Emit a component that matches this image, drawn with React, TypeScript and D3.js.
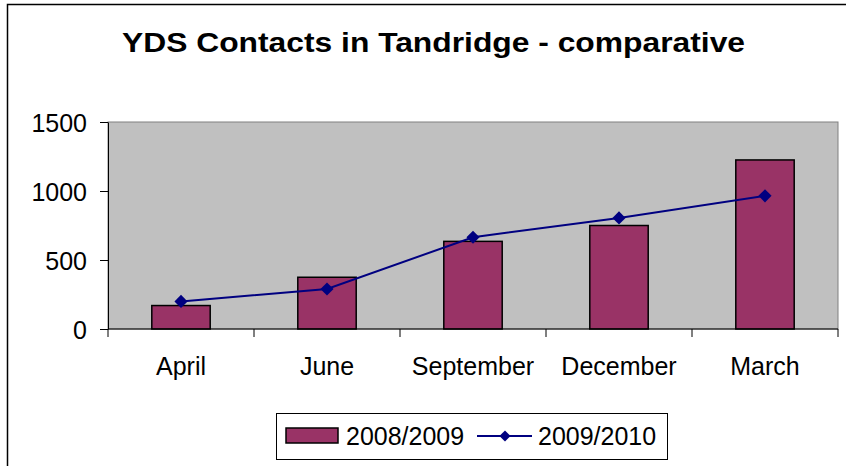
import * as d3 from "d3";
import { useEffect, useRef } from "react";

const MONTHS = ["April", "June", "September", "December", "March"];
const VALUES_0809 = [170, 375, 635, 750, 1225];
const VALUES_0910 = [200, 290, 665, 805, 965];
const Y_TICKS = [0, 500, 1000, 1500];
const SERIES_NAMES = ["2008/2009", "2009/2010"];

const BAR_COLOR = "#993366";
const LINE_COLOR = "#000080";
const FONT = "'Liberation Sans', Arial, sans-serif";
const FONT_SIZE = 25;

const App = () => {
	const svgRef = useRef<SVGSVGElement | null>(null);

	const width = 846;
	const height = 466;
	const plot = { left: 108, right: 838, top: 122, bottom: 329 };

	useEffect(() => {
		const svg = d3.select(svgRef.current);
		svg.selectAll("*").remove();

		// chart frame (only top and left edges are visible in the crop)
		svg.append("rect")
			.attr("x", 0)
			.attr("y", 0)
			.attr("width", width)
			.attr("height", height)
			.attr("fill", "#ffffff");
		svg.append("path")
			.attr("d", `M7.5,${height} V4.5 H${width}`)
			.attr("fill", "none")
			.attr("stroke", "#000")
			.attr("stroke-width", 1.5);

		svg.append("text")
			.attr("x", 433.5)
			.attr("y", 52)
			.attr("text-anchor", "middle")
			.attr("font-family", FONT)
			.attr("font-weight", "bold")
			.attr("font-size", 28)
			.attr("textLength", 623)
			.attr("lengthAdjust", "spacingAndGlyphs")
			.text("YDS Contacts in Tandridge - comparative");

		const x = d3
			.scaleBand<string>()
			.domain(MONTHS)
			.range([plot.left, plot.right])
			.padding(0);
		const y = d3.scaleLinear().domain([0, 1500]).range([plot.bottom, plot.top]);

		// plot area
		svg.append("rect")
			.attr("x", plot.left)
			.attr("y", plot.top)
			.attr("width", plot.right - plot.left)
			.attr("height", plot.bottom - plot.top)
			.attr("fill", "#c0c0c0")
			.attr("stroke", "#808080")
			.attr("stroke-width", 1);

		// bars
		const barW = x.bandwidth() * 0.4;
		svg.append("g")
			.selectAll("rect")
			.data(VALUES_0809)
			.enter()
			.append("rect")
			.attr("x", (_, i) => (x(MONTHS[i]) as number) + (x.bandwidth() - barW) / 2)
			.attr("y", (d) => y(d))
			.attr("width", barW)
			.attr("height", (d) => y(0) - y(d))
			.attr("fill", BAR_COLOR)
			.attr("stroke", "#000")
			.attr("stroke-width", 1.5);

		// y axis
		const yAxis = d3
			.axisLeft(y)
			.tickValues(Y_TICKS)
			.tickFormat(d3.format("d"))
			.tickSize(8)
			.tickSizeOuter(0)
			.tickPadding(13);
		const yg = svg.append("g").attr("transform", `translate(${plot.left},0)`).call(yAxis);
		yg.select(".domain").attr("stroke", "#000");
		yg.selectAll("line").attr("stroke", "#000");
		yg.selectAll("text")
			.attr("font-family", FONT)
			.attr("font-size", FONT_SIZE)
			.attr("fill", "#000")
			.attr("dy", "0.36em");

		// x axis with ticks between categories
		const xg = svg.append("g").attr("transform", `translate(0,${plot.bottom})`);
		xg.append("line")
			.attr("x1", plot.left)
			.attr("x2", plot.right)
			.attr("stroke", "#000");
		const tickXs = MONTHS.map((m) => x(m) as number).concat(plot.right);
		xg.selectAll(".tick")
			.data(tickXs)
			.enter()
			.append("line")
			.attr("x1", (d) => d)
			.attr("x2", (d) => d)
			.attr("y1", 0)
			.attr("y2", 8)
			.attr("stroke", "#000");
		xg.selectAll(".label")
			.data(MONTHS)
			.enter()
			.append("text")
			.attr("x", (d) => (x(d) as number) + x.bandwidth() / 2)
			.attr("y", 46)
			.attr("text-anchor", "middle")
			.attr("font-family", FONT)
			.attr("font-size", FONT_SIZE)
			.text((d) => d);

		// line series
		const line = d3
			.line<number>()
			.x((_, i) => (x(MONTHS[i]) as number) + x.bandwidth() / 2)
			.y((d) => y(d));
		svg.append("path")
			.datum(VALUES_0910)
			.attr("d", line)
			.attr("fill", "none")
			.attr("stroke", LINE_COLOR)
			.attr("stroke-width", 2);
		const diamond = d3.symbol().type(d3.symbolDiamond2).size(110);
		svg.append("g")
			.selectAll("path")
			.data(VALUES_0910)
			.enter()
			.append("path")
			.attr("d", diamond)
			.attr(
				"transform",
				(d, i) =>
					`translate(${(x(MONTHS[i]) as number) + x.bandwidth() / 2},${y(d)})`
			)
			.attr("fill", LINE_COLOR);

		// legend
		const lg = svg.append("g");
		lg.append("rect")
			.attr("x", 276.5)
			.attr("y", 413.5)
			.attr("width", 391)
			.attr("height", 46)
			.attr("fill", "#fff")
			.attr("stroke", "#000");
		lg.append("rect")
			.attr("x", 286)
			.attr("y", 428)
			.attr("width", 52)
			.attr("height", 15)
			.attr("fill", BAR_COLOR)
			.attr("stroke", "#000")
			.attr("stroke-width", 1.5);
		lg.append("text")
			.attr("x", 346)
			.attr("y", 445)
			.attr("font-family", FONT)
			.attr("font-size", FONT_SIZE)
			.text(SERIES_NAMES[0]);
		lg.append("line")
			.attr("x1", 477)
			.attr("x2", 532)
			.attr("y1", 436)
			.attr("y2", 436)
			.attr("stroke", LINE_COLOR)
			.attr("stroke-width", 2);
		lg.append("path")
			.attr("d", d3.symbol().type(d3.symbolDiamond2).size(80)())
			.attr("transform", "translate(505,436)")
			.attr("fill", LINE_COLOR);
		lg.append("text")
			.attr("x", 538)
			.attr("y", 445)
			.attr("font-family", FONT)
			.attr("font-size", FONT_SIZE)
			.text(SERIES_NAMES[1]);
	}, []);

	return (
		<svg
			ref={svgRef}
			width={width}
			height={height}
			style={{ position: "absolute", left: 0, top: 0 }}
		/>
	);
};

export default App;
